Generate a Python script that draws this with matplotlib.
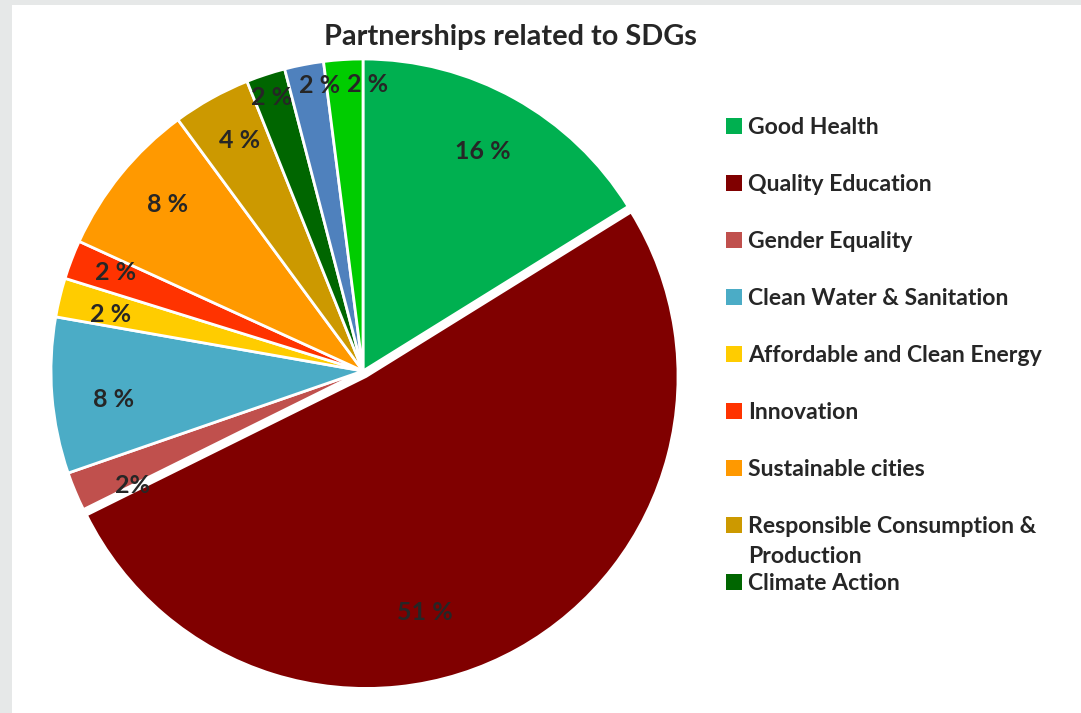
import matplotlib
matplotlib.use("Agg")
import matplotlib.pyplot as plt
from matplotlib.patches import Rectangle
import numpy as np

plt.rcParams['font.family'] = ['Lato', 'DejaVu Sans']

# slices, clockwise from 12 o'clock
categories = ['Good Health', 'Quality Education', 'Gender Equality',
              'Clean Water & Sanitation', 'Affordable and Clean Energy',
              'Innovation', 'Sustainable cities',
              'Responsible Consumption &\nProduction', 'Climate Action',
              'Partnership (blue)', 'Partnership (green)']
values = [16, 51, 2, 8, 2, 2, 8, 4, 2, 2, 2]
pct_labels = ['16 %', '51 %', '2%', '8 %', '2 %', '2 %', '8 %', '4 %', '2 %', '2 %', '2 %']
colors = ['#00B050', '#800000', '#C0504D', '#4BACC6', '#FFCC00', '#FF3300',
          '#FF9900', '#CC9900', '#006600', '#4F81BD', '#00CC00']
n_legend = 9  # only the first nine entries fit in the legend box

W, H = 1081, 713
cx, cy, R = 363, 371, 312  # pie centre / radius in pixels

fig = plt.figure(figsize=(W / 100, H / 100), dpi=100, facecolor='#E6E8E8')
fig.patches.append(Rectangle((12 / W, 0), 1, (H - 5) / H, transform=fig.transFigure,
                             facecolor='white', edgecolor='none', zorder=-5))

ax = fig.add_axes([0, 0, 1, 1])
explode = [0.0] * len(values)
explode[1] = 0.02
wedges, _ = ax.pie(values, colors=colors, startangle=90, counterclock=False,
                   explode=explode,
                   wedgeprops=dict(edgecolor='white', linewidth=2))
ax.set_xlim(-cx / R, (W - cx) / R)
ax.set_ylim(-(H - cy) / R, cy / R)
ax.axis('off')

# data labels inside the slices (radius, angle nudge in degrees)
label_dist = [0.80, 0.78, 0.826, 0.806, 0.828, 0.853, 0.823, 0.84, 0.925, 0.927, 0.917]
label_turn = [0.5, -15, 3.6, 1.9, 0.9, -0.9, -1.2, -0.9, 0.2, -2.3, -4.6]
for w, lab, d, t in zip(wedges, pct_labels, label_dist, label_turn):
    ang = np.deg2rad((w.theta1 + w.theta2) / 2 + t)
    x0, y0 = w.center
    ax.text(x0 + d * np.cos(ang), y0 + d * np.sin(ang), lab, ha='center', va='center',
            fontsize=18, fontweight='bold', color='#262626')

fig.text(510 / W, 1 - 37 / H, 'Partnerships related to SDGs', ha='center', va='center',
         fontsize=20.8, fontweight='bold', color='#262626')

# legend
row0, step = 126, 57
for i in range(n_legend):
    yc = row0 + i * step
    fig.patches.append(Rectangle((726 / W, 1 - (yc + 8) / H), 16 / W, 16 / H,
                                 transform=fig.transFigure, facecolor=colors[i],
                                 edgecolor='none'))
    for j, line in enumerate(categories[i].split('\n')):
        fig.text(748 / W, 1 - (yc + 8 + j * 30) / H, line, ha='left', va='baseline',
                 fontsize=16.6, fontweight='bold', color='#262626')

fig.savefig('out.png', dpi=100, facecolor=fig.get_facecolor())
